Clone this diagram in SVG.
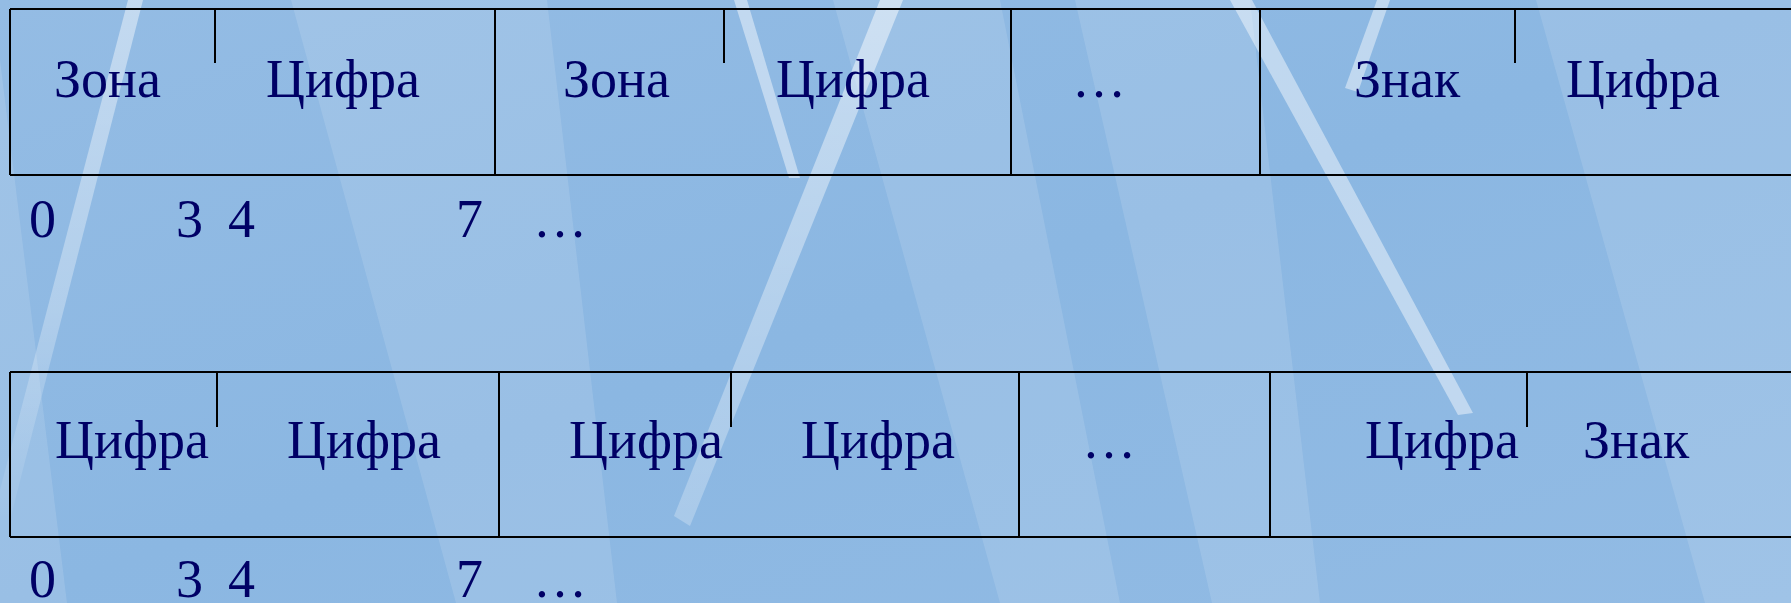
<svg xmlns="http://www.w3.org/2000/svg" width="1791" height="603" viewBox="0 0 1791 603">
<style>
.ln{stroke:#000;stroke-width:2;fill:none}
.t{font-family:"Liberation Serif","Times New Roman",serif;font-size:54px;fill:#000066}
.lb{fill:#ffffff;fill-opacity:0.12}
.ws{fill:#ffffff;fill-opacity:0.45}
</style>
<defs>
<linearGradient id="bg" x1="0" y1="0" x2="1" y2="1">
<stop offset="0" stop-color="#94BCE4"/>
<stop offset="0.5" stop-color="#8BB7E2"/>
<stop offset="1" stop-color="#92BBE4"/>
</linearGradient>
<linearGradient id="fadeA" x1="0" y1="0" x2="0" y2="1">
<stop offset="0" stop-color="#fff" stop-opacity="0.45"/>
<stop offset="0.6" stop-color="#fff" stop-opacity="0.3"/>
<stop offset="1" stop-color="#fff" stop-opacity="0.05"/>
</linearGradient>
<linearGradient id="fadeC" x1="0" y1="0" x2="0" y2="1">
<stop offset="0" stop-color="#fff" stop-opacity="0.5"/>
<stop offset="1" stop-color="#fff" stop-opacity="0.25"/>
</linearGradient>
</defs>
<g id="background">
<rect x="0" y="0" width="1791" height="603" fill="url(#bg)"/>
<polygon class="lb" points="291,0 547,0 617,603 456,603"/>
<polygon class="lb" points="833,0 1000,0 1120,603 1000,603"/>
<polygon class="lb" points="1075,0 1250,0 1320,603 1212,603"/>
<polygon class="lb" points="1536,0 1791,0 1791,603 1705,603"/>
<polygon class="lb" points="0,60 67,603 0,603" fill-opacity="0.08"/>
<polygon points="128,0 143,0 10,520 0,520 0,490" fill="url(#fadeA)"/>
<polygon class="ws" points="734,0 747,0 800,178 789,178" fill-opacity="0.3"/>
<polygon points="880,0 903,0 690,526 674,516" fill="url(#fadeC)"/>
<polygon class="ws" points="1230,0 1252,0 1473,413 1458,415" fill-opacity="0.4"/>
<polygon class="ws" points="1377,0 1390,0 1358,92 1345,88" fill-opacity="0.25"/>
</g>
<g id="row1">
<line class="ln" x1="10" y1="9" x2="1791" y2="9"/>
<line class="ln" x1="10" y1="175" x2="1791" y2="175"/>
<line class="ln" x1="10" y1="9" x2="10" y2="175"/>
<line class="ln" x1="495" y1="9" x2="495" y2="175"/>
<line class="ln" x1="1011" y1="9" x2="1011" y2="175"/>
<line class="ln" x1="1260" y1="9" x2="1260" y2="175"/>
<line class="ln" x1="215" y1="9" x2="215" y2="63"/>
<line class="ln" x1="724" y1="9" x2="724" y2="63"/>
<line class="ln" x1="1515" y1="9" x2="1515" y2="63"/>
</g>
<g id="row1-labels">
<text class="t" x="54" y="97">Зона</text>
<text class="t" x="266" y="97">Цифра</text>
<text class="t" x="563" y="97">Зона</text>
<text class="t" x="776" y="97">Цифра</text>
<text class="t" x="1072" y="97">…</text>
<text class="t" x="1354" y="97">Знак</text>
<text class="t" x="1566" y="97">Цифра</text>
</g>
<g id="row1-bits">
<text class="t" x="29" y="237">0</text>
<text class="t" x="176" y="237">3</text>
<text class="t" x="228" y="237">4</text>
<text class="t" x="456" y="237">7</text>
<text class="t" x="533" y="237">…</text>
</g>
<g id="row2">
<line class="ln" x1="10" y1="372" x2="1791" y2="372"/>
<line class="ln" x1="10" y1="537" x2="1791" y2="537"/>
<line class="ln" x1="10" y1="372" x2="10" y2="537"/>
<line class="ln" x1="499" y1="372" x2="499" y2="537"/>
<line class="ln" x1="1019" y1="372" x2="1019" y2="537"/>
<line class="ln" x1="1270" y1="372" x2="1270" y2="537"/>
<line class="ln" x1="217" y1="372" x2="217" y2="427"/>
<line class="ln" x1="731" y1="372" x2="731" y2="427"/>
<line class="ln" x1="1527" y1="372" x2="1527" y2="427"/>
</g>
<g id="row2-labels">
<text class="t" x="55" y="458">Цифра</text>
<text class="t" x="287" y="458">Цифра</text>
<text class="t" x="569" y="458">Цифра</text>
<text class="t" x="801" y="458">Цифра</text>
<text class="t" x="1082" y="458">…</text>
<text class="t" x="1365" y="458">Цифра</text>
<text class="t" x="1583" y="458">Знак</text>
</g>
<g id="row2-bits">
<text class="t" x="29" y="597">0</text>
<text class="t" x="176" y="597">3</text>
<text class="t" x="228" y="597">4</text>
<text class="t" x="456" y="597">7</text>
<text class="t" x="533" y="597">…</text>
</g>
</svg>
